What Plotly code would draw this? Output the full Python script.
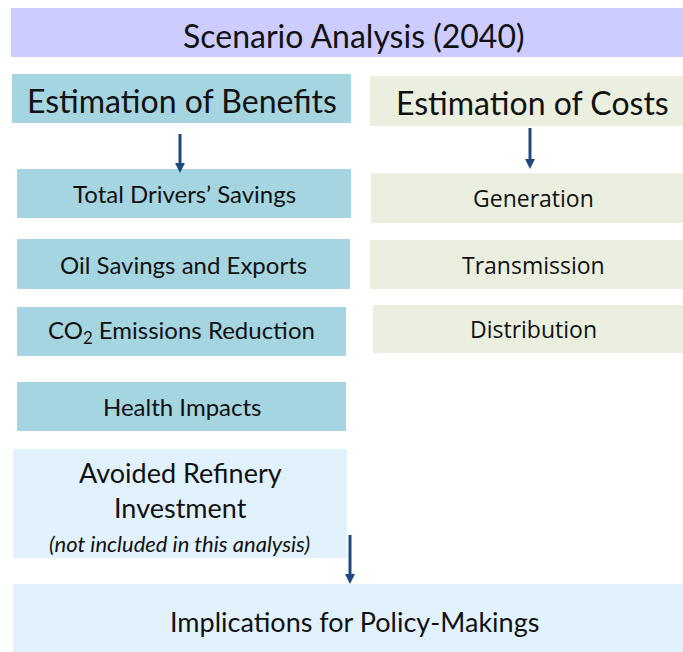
import plotly.graph_objects as go

# ---- content ----
title_label = "Scenario Analysis (2040)"
header_labels = ["Estimation of Benefits", "Estimation of Costs"]
benefit_labels = ["Total Drivers’ Savings", "Oil Savings and Exports",
                  "CO<sub>2</sub> Emissions Reduction", "Health Impacts"]
cost_labels = ["Generation", "Transmission", "Distribution"]
refinery_labels = ["Avoided Refinery", "Investment", "(not included in this analysis)"]
policy_label = "Implications for Policy-Makings"

# ---- layout geometry (pixel space) ----
W, H = 683, 652
title_box = (11, 8, 683, 57)
header_boxes = [(12, 74, 351, 123), (370, 76, 683, 126)]
benefit_boxes = [(17, 169, 351, 218), (17, 239, 350, 289), (17, 307, 346, 356), (17, 382, 346, 431)]
cost_boxes = [(371, 173, 683, 223), (370, 240, 683, 289), (373, 305, 683, 353)]
refinery_box = (13, 449, 347, 558)
policy_box = (13, 584, 683, 652)
arrows = [(180, 134, 173), (530, 128, 169), (350, 535, 584)]

C_TITLE = "#CCCCFF"
C_BEN = "#A6D5E2"
C_COST = "#EBEFDF"
C_LIGHT = "#E2F2FC"
C_ARROW = "#1F497D"

CAL = "Lato, 'Liberation Sans', sans-serif"
SEG = "'Open Sans', 'Noto Sans', sans-serif"

fig = go.Figure()
shapes = []
annotations = []


def box(b, color):
    shapes.append(dict(type="rect", xref="x", yref="y", x0=b[0], y0=b[1], x1=b[2], y1=b[3],
                       fillcolor=color, line=dict(width=0), layer="below"))


def text(x, y, s, size, family=CAL, italic=False):
    annotations.append(dict(x=x, y=y, xref="x", yref="y", text=s, showarrow=False,
                            font=dict(family=family, size=size, color="#111111",
                                      style="italic" if italic else "normal"),
                            xanchor="center", yanchor="middle"))


box(title_box, C_TITLE)
text(354, 35, title_label, 32)

box(header_boxes[0], C_BEN)
text(182, 100, header_labels[0], 32)
box(header_boxes[1], C_COST)
text(532, 102, header_labels[1], 32)

for b, lab in zip(benefit_boxes, benefit_labels):
    box(b, C_BEN)
    text((b[0] + b[2]) / 2, (b[1] + b[3]) / 2, lab, 24)

for b, lab in zip(cost_boxes, cost_labels):
    box(b, C_COST)
    text(533, (b[1] + b[3]) / 2, lab, 23, family=SEG)

box(refinery_box, C_LIGHT)
text(180, 472, refinery_labels[0], 27)
text(180, 507, refinery_labels[1], 27)
text(179, 543, refinery_labels[2], 22, italic=True)

box(policy_box, C_LIGHT)
text(354, 621, policy_label, 27)

# arrows: shaft as line, head as filled triangle
for x, y0, y1 in arrows:
    shapes.append(dict(type="line", xref="x", yref="y", x0=x, y0=y0, x1=x, y1=y1 - 7,
                       line=dict(color=C_ARROW, width=3)))
    shapes.append(dict(type="path", xref="x", yref="y",
                       path=f"M {x-5},{y1-10} L {x+5},{y1-10} L {x},{y1} Z",
                       fillcolor=C_ARROW, line=dict(width=0)))

fig.update_layout(
    width=W, height=H, margin=dict(l=0, r=0, t=0, b=0),
    paper_bgcolor="white", plot_bgcolor="white",
    xaxis=dict(range=[0, W], visible=False, fixedrange=True),
    yaxis=dict(range=[H, 0], visible=False, fixedrange=True),
    shapes=shapes, annotations=annotations, showlegend=False,
)
fig.write_html("out.html", config={"displayModeBar": False},
               post_script="document.body.style.margin='0px';document.body.style.overflow='hidden';")
